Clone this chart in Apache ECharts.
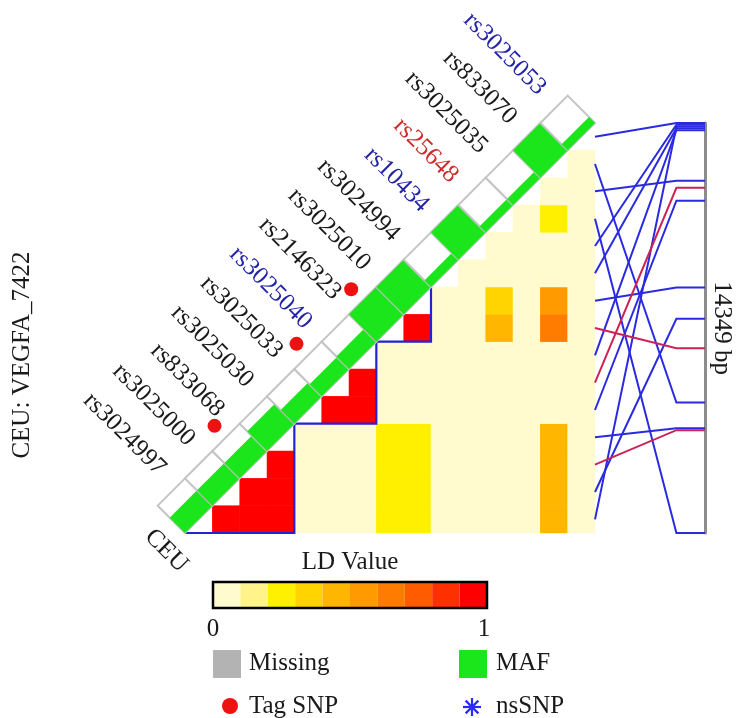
<!DOCTYPE html>
<html>
<head>
<meta charset="utf-8">
<script src="https://cdn.jsdelivr.net/npm/echarts@6/dist/echarts.min.js"></script>
<style>
  html, body { margin: 0; padding: 0; background: #ffffff; }
  #chart { width: 741px; height: 718px; }
</style>
</head>
<body>
<div id="chart"></div>
<script>
// ---- data -------------------------------------------------------------
// SNPs in matrix order, bottom-left to top-right along the diagonal
const snpCount = 15;
const snpLabels = ['rs3024997', 'rs3025000', 'rs833068', 'rs3025030', 'rs3025033',
  'rs3025040', 'rs2146323', 'rs3025010', 'rs3024994', 'rs10434', 'rs25648',
  'rs3025035', 'rs833070', 'rs3025053'];
const labelColors = ['#1a1a1a', '#1a1a1a', '#1a1a1a', '#1a1a1a', '#1a1a1a',
  '#2424a8', '#1a1a1a', '#1a1a1a', '#1a1a1a', '#2424a8', '#d02a2a',
  '#1a1a1a', '#1a1a1a', '#2424a8'];
const population = 'CEU';
const geneTitle = 'CEU: VEGFA_7422';

// minor allele frequency of each SNP (bar fills the box at 0.5)
const maf = [0.28, 0.28, 0.28, 0.36, 0.25, 0.22, 0.23, 0.5, 0.5, 0.12, 0.5, 0.11, 0.11, 0.5, 0.11];
const tagSnps = [2, 5, 7];

// pairwise LD: row i holds the values for SNPs i+1 .. 14
const ldRows = [
  [1, 1, 1, 0.03, 0.03, 0.03, 0.25, 0.25, 0.03, 0.03, 0.03, 0.03, 0.46, 0.03],
  [1, 1, 0.03, 0.03, 0.03, 0.25, 0.25, 0.03, 0.03, 0.03, 0.03, 0.46, 0.03],
  [1, 0.03, 0.03, 0.03, 0.26, 0.26, 0.03, 0.03, 0.03, 0.03, 0.46, 0.03],
  [0.03, 0.03, 0.03, 0.25, 0.25, 0.03, 0.03, 0.03, 0.03, 0.46, 0.03],
  [1, 0.9, 0.03, 0.03, 0.03, 0.03, 0.03, 0.03, 0.03, 0.03],
  [0.9, 0.03, 0.03, 0.03, 0.03, 0.03, 0.03, 0.03, 0.03],
  [0.03, 0.03, 0.03, 0.03, 0.03, 0.03, 0.03, 0.03],
  [1, 0.03, 0.03, 0.42, 0.03, 0.65, 0.03],
  [0.03, 0.03, 0.34, 0.03, 0.56, 0.03],
  [0.03, 0.03, 0.03, 0.03, 0.03],
  [0.03, 0.03, 0.03, 0.03],
  [0.03, 0.22, 0.03],
  [0.03, 0.03],
  [0.03]
];
// haplotype blocks as [first SNP, last SNP]
const ldBlocks = [[0, 3], [4, 6], [7, 8]];

// physical position of each SNP, bp from the first one
const positions = [120, 6850, 10750, 10680, 2720, 2270, 250, 7880, 5760, 180, 60, 14349, 2020, 9780, 0];
const regionLength = 14349;

// LD colour scale, ten steps from 0 to 1
const ldSteps = ['#fffbcf', '#fff38a', '#fff000', '#ffd400', '#ffb600', '#ff9a00',
  '#ff7c00', '#ff5c00', '#ff3000', '#ff0000'];

// ---- chart ------------------------------------------------------------
const FONT = '"Liberation Serif", "Times New Roman", serif';
const GREEN = '#1be61b';
const BLUE = '#2a2ae0';
const RED = '#cc2255';
const INK = '#1a1a1a';
const cats = Array.from({ length: snpCount }, (_, i) => String(i));

const heatData = [];
ldRows.forEach((row, i) => row.forEach((v, n) => heatData.push([i + 1 + n, i, v])));

// cell size and the bottom-left corner of the matrix, in pixels
function geom(api) {
  const a = api.coord([0, 0]);
  const b = api.coord([1, 1]);
  const s = b[0] - a[0];
  return { x0: a[0] - s / 2, y0: a[1] + s / 2, s: s };
}
// centre of the diagonal box of SNP position p
function boxCentre(g, p) {
  return [g.x0 + g.s * p, g.y0 - g.s * (p + 1)];
}

const chart = echarts.init(document.getElementById('chart'));

chart.setOption({
  backgroundColor: '#ffffff',
  animation: false,
  grid: [
    { left: 185, top: 123, width: 410, height: 410 },
    { left: 595, top: 123, width: 110, height: 410 }
  ],
  xAxis: [
    { gridIndex: 0, type: 'category', data: cats, show: false },
    { gridIndex: 1, type: 'value', min: 0, max: 1, show: false }
  ],
  yAxis: [
    { gridIndex: 0, type: 'category', data: cats, show: false },
    {
      gridIndex: 1, type: 'value', min: 0, max: regionLength, inverse: true,
      position: 'right',
      axisLine: { show: true, onZero: false, lineStyle: { color: '#8c8c8c', width: 3 } },
      axisTick: { show: false }, axisLabel: { show: false }, splitLine: { show: false },
      name: regionLength + ' bp', nameLocation: 'middle', nameRotate: -90, nameGap: 4,
      nameTextStyle: { fontFamily: FONT, fontSize: 25, color: INK }
    }
  ],
  visualMap: {
    type: 'piecewise', seriesIndex: 0, orient: 'horizontal',
    left: 213, top: 582, padding: 0,
    itemWidth: 27.4, itemHeight: 26, itemGap: 0, itemSymbol: 'rect',
    showLabel: false, selectedMode: false, hoverLink: false,
    pieces: ldSteps.map((c, i) => i < ldSteps.length - 1
      ? { gte: i / 10, lt: (i + 1) / 10, color: c }
      : { gte: i / 10, lte: 1, color: c })
  },
  series: [
    {
      type: 'heatmap', xAxisIndex: 0, yAxisIndex: 0, data: heatData,
      silent: true, emphasis: { disabled: true }, itemStyle: { borderWidth: 0 }
    },
    {
      // haplotype block outlines
      type: 'custom', xAxisIndex: 0, yAxisIndex: 0, silent: true,
      data: ldBlocks.map(b => [b[0], b[0], b[1]]), encode: { x: 0, y: 1 },
      renderItem: function (params, api) {
        const g = geom(api), a = api.value(0), b = api.value(2);
        const xl = g.x0 + g.s * a, xr = g.x0 + g.s * (b + 1);
        const yb = g.y0 - g.s * a, yt = g.y0 - g.s * (b + 1);
        return { type: 'polyline', shape: { points: [[xl, yb], [xr, yb], [xr, yt]] },
          style: { stroke: '#2323d6', lineWidth: 2.2, fill: null } };
      }
    },
    {
      // MAF boxes along the diagonal
      type: 'custom', xAxisIndex: 0, yAxisIndex: 0, silent: true,
      data: maf.map((m, k) => [k, k, m]), encode: { x: 0, y: 1 },
      renderItem: function (params, api) {
        const g = geom(api), k = api.value(0), s = g.s;
        const f = Math.min(1, api.value(2) / 0.5);
        const A = [g.x0 + s * k, g.y0 - s * k];
        const B = [A[0] + s, A[1] - s];
        const C = [A[0], A[1] - 2 * s];
        const D = [A[0] - s, A[1] - s];
        return { type: 'group', children: [
          { type: 'polygon', shape: { points: [A, B, C, D] },
            style: { fill: '#ffffff', stroke: '#c4c4c4', lineWidth: 2 } },
          { type: 'polygon', shape: { points: [A, B, [B[0] - f * s, B[1] - f * s], [A[0] - f * s, A[1] - f * s]] },
            style: { fill: GREEN } }
        ] };
      }
    },
    {
      // tag SNP markers
      type: 'custom', xAxisIndex: 0, yAxisIndex: 0, silent: true,
      data: tagSnps.map(k => [k, k]), encode: { x: 0, y: 1 },
      renderItem: function (params, api) {
        const g = geom(api), c = boxCentre(g, api.value(0));
        const d = 0.92 * g.s;
        return { type: 'circle', shape: { cx: c[0] - d, cy: c[1] - d, r: 7 },
          style: { fill: '#ee1111' } };
      }
    },
    {
      // SNP names; the population name sits under the matrix corner
      type: 'custom', xAxisIndex: 0, yAxisIndex: 0, silent: true,
      data: [[0, 0, -1]].concat(snpLabels.map((n, m) => [0, 0, m])), encode: { x: 0, y: 1 },
      renderItem: function (params, api) {
        const g = geom(api), m = api.value(2);
        let x, y, text, fill;
        if (m < 0) {
          x = g.x0 - 0.04 * g.s;
          y = g.y0 + 1.3 * g.s;
          text = population;
          fill = INK;
        } else {
          const c = boxCentre(g, 0.2 + 1.07 * m);
          const d = 1.05 * g.s;
          x = c[0] - d;
          y = c[1] - d;
          text = snpLabels[m];
          fill = labelColors[m];
        }
        return { type: 'text', x: x, y: y, rotation: -Math.PI / 4,
          style: { text: text, fill: fill, font: '25px ' + FONT, align: 'right', verticalAlign: 'middle' } };
      }
    },
    {
      // connectors from matrix rows to physical positions
      type: 'custom', xAxisIndex: 1, yAxisIndex: 1, silent: true,
      data: positions.map((pos, k) => [k, pos, tagSnps.indexOf(k) >= 0 ? 1 : 0])
        .sort((a, b) => a[2] - b[2]),
      encode: { x: 0, y: 1 },
      renderItem: function (params, api) {
        const k = api.value(0), pos = api.value(1), tag = api.value(2);
        const rowBp = regionLength * (1 - (k + 0.5) / snpCount);
        const p0 = api.coord([0, rowBp]);
        const p1 = api.coord([0.74, pos]);
        const p2 = api.coord([1, pos]);
        return { type: 'polyline', shape: { points: [p0, p1, p2] },
          style: { stroke: tag ? RED : BLUE, lineWidth: 2, fill: null } };
      }
    }
  ],
  graphic: [
    { type: 'text', x: 22, y: 355, rotation: Math.PI / 2,
      style: { text: geneTitle, font: '25px ' + FONT, fill: INK, align: 'center', verticalAlign: 'middle' } },
    { type: 'text', x: 350, y: 562,
      style: { text: 'LD Value', font: '25px ' + FONT, fill: INK, align: 'center', verticalAlign: 'middle' } },
    { type: 'rect', shape: { x: 213, y: 582, width: 274, height: 26 }, z: 100,
      style: { fill: null, stroke: '#000000', lineWidth: 2.5 } },
    { type: 'text', x: 213, y: 629,
      style: { text: '0', font: '25px ' + FONT, fill: INK, align: 'center', verticalAlign: 'middle' } },
    { type: 'text', x: 484, y: 629,
      style: { text: '1', font: '25px ' + FONT, fill: INK, align: 'center', verticalAlign: 'middle' } },
    { type: 'rect', shape: { x: 213, y: 650, width: 28, height: 28 }, style: { fill: '#b3b3b3' } },
    { type: 'text', x: 249, y: 663,
      style: { text: 'Missing', font: '25px ' + FONT, fill: INK, align: 'left', verticalAlign: 'middle' } },
    { type: 'rect', shape: { x: 459, y: 650, width: 28, height: 28 }, style: { fill: GREEN } },
    { type: 'text', x: 496, y: 663,
      style: { text: 'MAF', font: '25px ' + FONT, fill: INK, align: 'left', verticalAlign: 'middle' } },
    { type: 'circle', shape: { cx: 230, cy: 706, r: 8 }, style: { fill: '#ee1111' } },
    { type: 'text', x: 249, y: 706,
      style: { text: 'Tag SNP', font: '25px ' + FONT, fill: INK, align: 'left', verticalAlign: 'middle' } },
    { type: 'group', x: 472, y: 707, children: [0, 1, 2, 3].map(i => {
        const a = i * Math.PI / 4, r = 9;
        return { type: 'line', shape: { x1: -r * Math.cos(a), y1: -r * Math.sin(a), x2: r * Math.cos(a), y2: r * Math.sin(a) },
          style: { stroke: '#2a2aff', lineWidth: 2.2 } };
      }) },
    { type: 'text', x: 496, y: 706,
      style: { text: 'nsSNP', font: '25px ' + FONT, fill: INK, align: 'left', verticalAlign: 'middle' } }
  ]
});
</script>
</body>
</html>
